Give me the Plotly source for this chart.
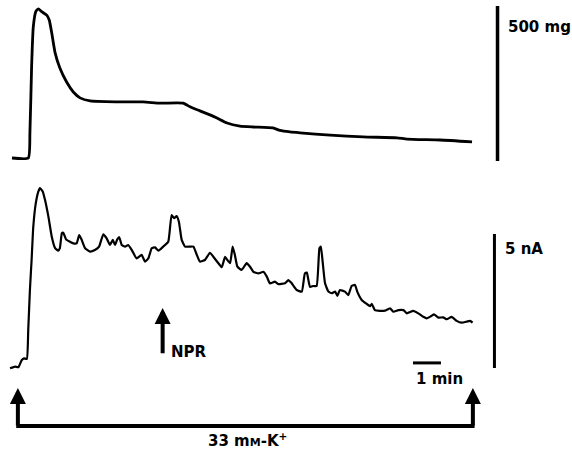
import plotly.graph_objects as go

# ---- data (time in min, tension in mg, current in nA) ----
top_t = [0.0, 0.58, 0.64, 0.70, 0.76, 0.85, 0.94, 1.06, 1.24, 1.33, 1.42, 1.54, 1.71, 1.95,
         2.19, 2.43, 2.79, 3.75, 4.68, 5.29, 6.11, 6.36, 6.71, 7.07, 7.32, 7.68, 8.14, 8.61,
         9.32, 9.57, 9.93, 10.29, 11.36, 12.54, 13.75, 14.11, 15.29, 16.43]
top_mg = [0, 0, 81, 294, 423, 472, 481, 472, 461, 445, 403, 339, 290, 245,
          213, 194, 184, 181, 181, 177, 177, 165, 152, 139, 129, 113, 103, 100,
          97, 89, 84, 81, 74, 68, 65, 61, 58, 52]

bot_t = [-0.07, 0.11, 0.23, 0.35, 0.43, 0.53, 0.58, 0.64, 0.70, 0.76,
         0.85, 0.94, 1.00, 1.10, 1.18, 1.30, 1.42, 1.54, 1.65, 1.71,
         1.78, 1.83, 1.93, 2.07, 2.19, 2.31, 2.40, 2.49, 2.61, 2.79,
         2.96, 3.11, 3.26, 3.38, 3.50, 3.60, 3.68, 3.76, 3.83, 3.92,
         4.04, 4.15, 4.28, 4.45, 4.63, 4.75, 4.87, 4.99, 5.11, 5.23,
         5.40, 5.58, 5.70, 5.79, 5.88, 5.96, 6.06, 6.18, 6.36, 6.48,
         6.60, 6.71, 6.89, 7.07, 7.19, 7.37, 7.49, 7.61, 7.69, 7.79,
         7.88, 7.96, 8.05, 8.20, 8.38, 8.50, 8.62, 8.80, 8.98, 9.10,
         9.21, 9.39, 9.51, 9.75, 9.87, 9.99, 10.17, 10.35, 10.46, 10.53,
         10.64, 10.76, 10.88, 10.98, 11.03, 11.10, 11.18, 11.30, 11.42, 11.54,
         11.62, 11.71, 11.89, 12.01, 12.13, 12.25, 12.33, 12.49, 12.67, 12.79,
         12.85, 12.96, 13.14, 13.32, 13.50, 13.62, 13.80, 13.98, 14.10, 14.33,
         14.51, 14.69, 14.81, 14.93, 15.07, 15.23, 15.40, 15.53, 15.70, 15.88,
         16.06, 16.24, 16.36, 16.45]
bot_nA = [-0.01, 0.05, 0.03, 0.30, 0.36, 0.34, 1.42, 2.91, 4.03, 5.27,
          6.15, 6.58, 6.71, 6.58, 6.27, 5.65, 4.90, 4.47, 4.38, 4.47,
          5.03, 5.05, 4.80, 4.71, 4.65, 4.65, 4.96, 4.78, 4.47, 4.34,
          4.40, 4.53, 4.99, 4.84, 4.59, 4.78, 4.59, 4.80, 4.88, 4.59,
          4.53, 4.59, 4.40, 4.09, 4.22, 3.97, 4.09, 4.47, 4.50, 4.38,
          4.53, 4.71, 5.71, 5.59, 5.67, 5.46, 4.78, 4.53, 4.53, 4.53,
          4.22, 3.97, 4.03, 4.30, 4.15, 3.91, 3.76, 4.15, 4.03, 3.91,
          4.53, 4.22, 3.78, 3.66, 3.91, 3.78, 3.59, 3.53, 3.59, 3.41,
          3.16, 3.22, 3.13, 3.16, 3.28, 3.16, 2.91, 2.85, 3.53, 3.56,
          3.03, 3.06, 3.06, 4.47, 4.53, 3.91, 3.16, 2.85, 2.79, 2.85,
          2.69, 2.91, 2.85, 2.72, 3.06, 3.10, 2.85, 2.54, 2.39, 2.31,
          2.39, 2.16, 2.13, 2.14, 2.23, 2.10, 2.16, 2.16, 2.04, 2.13,
          2.04, 1.91, 1.85, 1.91, 2.00, 1.88, 1.89, 1.82, 1.91, 1.76,
          1.69, 1.73, 1.76, 1.69]

# scale bars / markers (values)
tension_bar_mg = 500
current_bar_nA = 5
time_bar_min = 1
npr_time = 5.38
k_start, k_end = 0.21, 16.46

FONT = dict(family="DejaVu Sans", size=15, color="black")

fig = go.Figure()
fig.add_trace(go.Scatter(x=top_t, y=top_mg, mode="lines", xaxis="x", yaxis="y",
                         line=dict(color="black", width=2.8, shape="spline", smoothing=0.5),
                         hoverinfo="skip"))
fig.add_trace(go.Scatter(x=bot_t, y=bot_nA, mode="lines", xaxis="x", yaxis="y2",
                         line=dict(color="black", width=2.2, shape="spline", smoothing=0.4),
                         hoverinfo="skip"))

shapes = [
    dict(type="line", xref="x", yref="y", x0=17.34, x1=17.34, y0=-10, y1=-10 + tension_bar_mg,
         line=dict(color="black", width=3.5)),
    dict(type="line", xref="x", yref="y2", x0=17.23, x1=17.23, y0=0, y1=current_bar_nA,
         line=dict(color="black", width=3)),
    dict(type="line", xref="x", yref="y2", x0=14.32, x1=14.32 + time_bar_min, y0=0.19, y1=0.19,
         line=dict(color="black", width=3)),
    dict(type="line", xref="x", yref="y2", x0=k_start - 0.06, x1=k_end + 0.06, y0=-2.16, y1=-2.16,
         line=dict(color="black", width=4)),
]

arrow = dict(showarrow=True, text="", arrowhead=2, arrowsize=0.8, arrowwidth=4,
             arrowcolor="black", xref="x", yref="y2", axref="x", ayref="y2")
annotations = [
    dict(x=npr_time, y=2.24, ax=npr_time, ay=0.49, **arrow),
    dict(x=k_start, y=-0.75, ax=k_start, ay=-2.20, **arrow),
    dict(x=k_end, y=-0.75, ax=k_end, ay=-2.20, **arrow),
    dict(text="<b>500 mg</b>", x=506 / 572, y=1 - 26.5 / 452, xref="paper", yref="paper",
         xanchor="left", yanchor="middle", showarrow=False, font=FONT),
    dict(text="<b>5 nA</b>", x=503 / 572, y=1 - 248.5 / 452, xref="paper", yref="paper",
         xanchor="left", yanchor="middle", showarrow=False, font=FONT),
    dict(text="<b>1 min</b>", x=414 / 572, y=1 - 378.5 / 452, xref="paper", yref="paper",
         xanchor="left", yanchor="middle", showarrow=False, font=FONT),
    dict(text="<b>NPR</b>", x=169 / 572, y=1 - 352 / 452, xref="paper", yref="paper",
         xanchor="left", yanchor="middle", showarrow=False, font=FONT),
    dict(text="<b>33 m<span style='font-size:11px'>M</span>-K<sup>+</sup></b>",
         x=248 / 572, y=1 - 440 / 452, xref="paper", yref="paper",
         xanchor="center", yanchor="middle", showarrow=False, font=FONT),
]

axis_off = dict(visible=False, showgrid=False, zeroline=False, fixedrange=True)
fig.update_layout(
    width=572, height=452,
    margin=dict(l=0, r=0, t=0, b=0),
    paper_bgcolor="white", plot_bgcolor="white",
    showlegend=False,
    xaxis=dict(range=[-12 / 28, 20], domain=[0, 1], **axis_off),
    yaxis=dict(range=[-70.97, 509.68], domain=[1 - 180 / 452, 1], **axis_off),
    yaxis2=dict(range=[-3.134, 7.015], domain=[0, 1 - 180 / 452], **axis_off),
    shapes=shapes,
    annotations=annotations,
)

fig.write_html("out.html")
